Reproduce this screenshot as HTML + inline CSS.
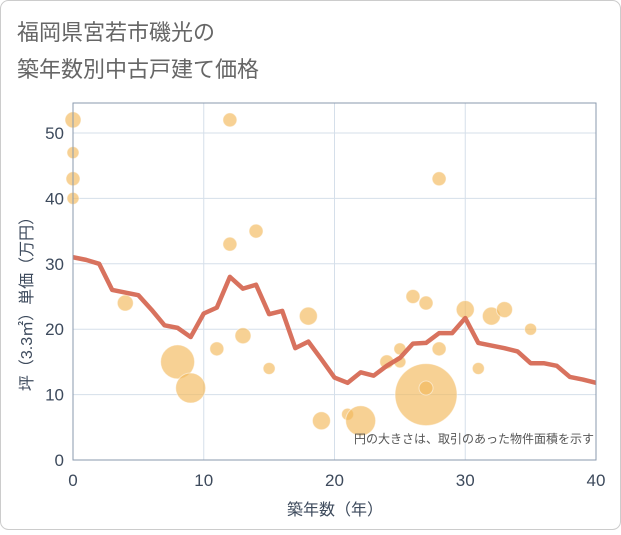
<!DOCTYPE html>
<html><head><meta charset="utf-8">
<style>
body{margin:0;background:#fff;}
#wrap{position:relative;width:621px;height:530px;font-family:"Liberation Sans","Noto Sans CJK JP",sans-serif;}
svg text{font-family:"Liberation Sans","Noto Sans CJK JP",sans-serif;}
</style></head>
<body>
<div id="wrap">
<svg id="chart" width="621" height="530">
<rect x="0.5" y="0.5" width="620" height="529" rx="8" fill="#fff" stroke="#ccc"/>
<text x="17" y="40" font-size="22" fill="#666">福岡県宮若市磯光の</text>
<text x="17" y="77" font-size="22" fill="#666">築年数別中古戸建て価格</text>
<g id="grid"></g>
<g id="bubbles"></g>
<g id="line"></g>
<rect x="73" y="103" width="523" height="357" fill="none" stroke="#8a9aae" stroke-width="1"/>
<g id="ticks"></g>
<text x="335" y="515" font-size="16" fill="#3d4a5c" text-anchor="middle">築年数（年）</text>
<text transform="translate(32,300) rotate(-90)" font-size="16" fill="#3d4a5c" text-anchor="middle">坪（3.3㎡）単価（万円）</text>
<text x="594" y="443" font-size="12" fill="#555" text-anchor="end">円の大きさは、取引のあった物件面積を示す</text>
</svg>
</div>
<script>
const xTicks=[0,10,20,30,40];
const yTicks=[0,10,20,30,40,50];
const lineYears=[0,1,2,3,4,5,6,7,8,9,10,11,12,13,14,15,16,17,18,19,20,21,22,23,24,25,26,27,28,29,30,31,32,33,34,35,36,37,38,39,40];
const lineValues=[31,30.6,30,26,25.6,25.2,23,20.6,20.2,18.8,22.4,23.3,28,26.2,26.8,22.3,22.8,17.1,18.1,15.4,12.6,11.8,13.4,12.9,14.4,15.6,17.8,17.9,19.4,19.4,21.7,17.9,17.5,17.1,16.6,14.8,14.8,14.4,12.7,12.3,11.8];
const bubbleX=[0,0,0,0,12,12,14,4,8,9,11,13,15,18,19,21,22,24,25,25,26,27,27,27,28,28,30,31,32,33,35];
const bubbleY=[52,47,43,40,52,33,35,24,15,11,17,19,14,22,6,7,6,15,17,15,25,24,10,11,43,17,23,14,22,23,20];
const bubbleR=[8,6,7,6,7,7,7,8,17,15,7,8,6,9,9,6,15,7,6,6,7,7,31,7,7,7,9,6,9,8,6];
const NS='http://www.w3.org/2000/svg';
const X0=73,X1=596,Y0=460,Y50=133;
const xs=v=>X0+(X1-X0)*v/40;
const ys=v=>Y0-(Y0-Y50)*v/50;
function mk(tag,attrs,parent){const e=document.createElementNS(NS,tag);for(const k in attrs)e.setAttribute(k,attrs[k]);parent.appendChild(e);return e;}
const grid=document.getElementById('grid'),ticks=document.getElementById('ticks');
xTicks.forEach(t=>{
  const l=mk('line',{x1:xs(t),x2:xs(t),y1:103,y2:460,stroke:'#d5dfea'},grid);
  
  
  const tx=mk('text',{x:xs(t),y:486,'font-size':17,fill:'#3d4a5c','text-anchor':'middle'},ticks);
  tx.textContent=t;
  
  
});
yTicks.forEach(t=>{
  const l=mk('line',{x1:73,x2:596,y1:ys(t),y2:ys(t),stroke:'#d5dfea'},grid);
  
  
  const tx=mk('text',{x:64,y:ys(t)+6,'font-size':17,fill:'#3d4a5c','text-anchor':'end'},ticks);
  tx.textContent=t;
  
  
});
const bg=document.getElementById('bubbles');
bubbleX.forEach((x,i)=>{
  const c=mk('circle',{cx:xs(x),cy:ys(bubbleY[i]),r:bubbleR[i],fill:'#f2b85a','fill-opacity':0.65,stroke:'#fff','stroke-opacity':0.5},bg);
  
  
});
const pts=lineYears.map((y,i)=>xs(y)+','+ys(lineValues[i])).join(' ');
const pl=mk('polyline',{points:pts,fill:'none',stroke:'#d66a55','stroke-width':4.5,'stroke-linejoin':'round','stroke-opacity':0.95},document.getElementById('line'));


</script>
</body></html>
